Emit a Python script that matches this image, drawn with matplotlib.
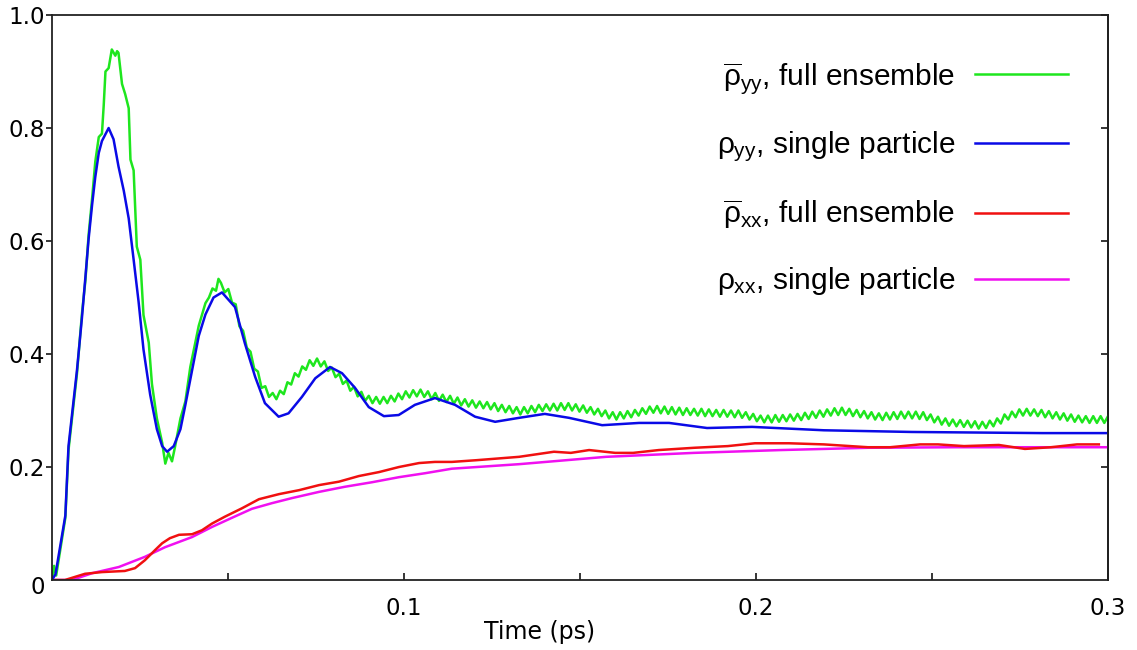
"""Population dynamics: full ensemble vs single particle (rho_yy, rho_xx)."""

import matplotlib

matplotlib.use("Agg")
import matplotlib.pyplot as plt
import numpy as np

plt.rcParams.update(
    {
        "font.family": "DejaVu Sans",
        "mathtext.fontset": "custom",
        "mathtext.rm": "Liberation Sans",
        "mathtext.it": "Liberation Sans",
        "mathtext.bf": "Liberation Sans",
    }
)

# --- data (time in ps) ------------------------------------------------------
# rho_yy, single particle
BLUE_T = [0, 0.001, 0.0038, 0.0047, 0.0071, 0.0085, 0.0095, 0.0104, 0.0114,
          0.0123, 0.0133, 0.0142, 0.0161, 0.0175, 0.0189, 0.0204, 0.0218,
          0.0232, 0.0246, 0.026, 0.0279, 0.0298, 0.0313, 0.0327, 0.0346,
          0.0365, 0.0379, 0.0398, 0.0417, 0.0436, 0.0459, 0.0483, 0.052,
          0.0548, 0.0577, 0.0605, 0.0644, 0.0672, 0.071, 0.0748, 0.079,
          0.0824, 0.0861, 0.09, 0.0943, 0.0985, 0.1031, 0.1088, 0.1145,
          0.1202, 0.1259, 0.1327, 0.140, 0.1469, 0.1563, 0.1668, 0.1753,
          0.1861, 0.1989, 0.2193, 0.2443, 0.2813, 0.3]
BLUE_Y = [0, 0.01, 0.114, 0.237, 0.371, 0.463, 0.536, 0.603, 0.664,
          0.713, 0.756, 0.777, 0.80, 0.78, 0.732, 0.689, 0.64,
          0.567, 0.493, 0.408, 0.328, 0.267, 0.237, 0.227, 0.237,
          0.267, 0.31, 0.371, 0.432, 0.47, 0.5, 0.509, 0.483,
          0.419, 0.36, 0.313, 0.289, 0.295, 0.324, 0.357, 0.377,
          0.366, 0.34, 0.306, 0.29, 0.292, 0.31, 0.322, 0.31,
          0.289, 0.28, 0.287, 0.294, 0.287, 0.274, 0.278, 0.278,
          0.269, 0.271, 0.265, 0.262, 0.26, 0.26]

# rho_yy bar, full ensemble: first rise and fall ...
GREEN_HEAD_T = [0, 0.0006, 0.0012, 0.0038, 0.0047, 0.0071, 0.0085, 0.0095,
                0.0104, 0.0114, 0.0123, 0.0133, 0.0142, 0.0147, 0.0152,
                0.0161, 0.017, 0.018, 0.0185, 0.0189, 0.0199, 0.0208,
                0.0218, 0.0223, 0.0232, 0.0241, 0.0251, 0.026, 0.0275,
                0.0284, 0.0298, 0.0313, 0.0322, 0.0331, 0.0341, 0.035,
                0.0365, 0.0379, 0.0393, 0.0417, 0.0436, 0.0446, 0.0456,
                0.0466, 0.0473]
GREEN_HEAD_Y = [0, 0.025, 0.008, 0.11, 0.23, 0.365, 0.47, 0.53,
                0.61, 0.675, 0.74, 0.784, 0.79, 0.84, 0.9,
                0.906, 0.939, 0.928, 0.936, 0.933, 0.878, 0.86,
                0.835, 0.744, 0.725, 0.59, 0.567, 0.469, 0.42,
                0.347, 0.286, 0.243, 0.206, 0.225, 0.21, 0.237,
                0.286, 0.316, 0.377, 0.45, 0.49, 0.50, 0.516,
                0.512, 0.533]
# ... then the rippled tail, sampled at every ripple crest/trough from 0.048 ps
GREEN_TAIL_Y = [
    0.526, 0.509, 0.515, 0.491, 0.488, 0.449, 0.441, 0.411, 0.404, 0.374,
    0.369, 0.340, 0.343, 0.324, 0.331, 0.320, 0.335, 0.329, 0.350, 0.346,
    0.366, 0.360, 0.378, 0.372, 0.389, 0.379, 0.392, 0.378, 0.387, 0.370,
    0.376, 0.359, 0.365, 0.347, 0.353, 0.335, 0.342, 0.325, 0.333, 0.317,
    0.326, 0.313, 0.324, 0.312, 0.324, 0.313, 0.326, 0.316, 0.330, 0.320,
    0.334, 0.323, 0.336, 0.325, 0.337, 0.324, 0.334, 0.320, 0.331, 0.317,
    0.328, 0.315, 0.326, 0.312, 0.323, 0.309, 0.320, 0.307, 0.318, 0.305,
    0.316, 0.304, 0.315, 0.302, 0.313, 0.299, 0.310, 0.297, 0.308, 0.295,
    0.306, 0.293, 0.306, 0.295, 0.308, 0.297, 0.310, 0.299, 0.311, 0.300,
    0.312, 0.300, 0.313, 0.301, 0.313, 0.300, 0.311, 0.298, 0.309, 0.296,
    0.306, 0.293, 0.303, 0.290, 0.300, 0.286, 0.297, 0.284, 0.297, 0.286,
    0.299, 0.288, 0.301, 0.291, 0.304, 0.294, 0.307, 0.296, 0.308, 0.295,
    0.307, 0.294, 0.306, 0.293, 0.305, 0.292, 0.304, 0.292, 0.303, 0.291,
    0.303, 0.290, 0.302, 0.290, 0.301, 0.289, 0.301, 0.289, 0.300, 0.288,
    0.300, 0.287, 0.297, 0.284, 0.294, 0.281, 0.291, 0.279, 0.291, 0.279,
    0.292, 0.280, 0.292, 0.281, 0.293, 0.282, 0.294, 0.283, 0.296, 0.285,
    0.298, 0.287, 0.300, 0.289, 0.302, 0.291, 0.304, 0.292, 0.305, 0.292,
    0.303, 0.290, 0.301, 0.288, 0.299, 0.286, 0.297, 0.284, 0.295, 0.283,
    0.296, 0.284, 0.297, 0.285, 0.298, 0.286, 0.298, 0.286, 0.298, 0.285,
    0.297, 0.283, 0.293, 0.279, 0.289, 0.275, 0.286, 0.273, 0.284, 0.272,
    0.283, 0.271, 0.282, 0.270, 0.281, 0.268, 0.280, 0.269, 0.282, 0.272,
    0.286, 0.277, 0.293, 0.284, 0.298, 0.288, 0.302, 0.291, 0.303, 0.291,
    0.302, 0.290, 0.301, 0.288, 0.299, 0.286, 0.297, 0.284, 0.295, 0.282,
    0.293, 0.280, 0.291, 0.279, 0.290, 0.278, 0.290, 0.278, 0.290, 0.278,
    0.290,
]
GREEN_TAIL_START, GREEN_TAIL_END = 0.048, 0.3

# rho_xx bar, full ensemble
RED_T = [0, 0.0037, 0.0094, 0.0142, 0.0207, 0.0236, 0.0264, 0.0293, 0.0313,
         0.0335, 0.0361, 0.0398, 0.0426, 0.0455, 0.0491, 0.054, 0.0588,
         0.0645, 0.0702, 0.0759, 0.0815, 0.0872, 0.0929, 0.0986, 0.1043,
         0.1088, 0.1136, 0.1205, 0.1327, 0.1426, 0.1474, 0.1526, 0.16,
         0.1651, 0.1724, 0.1824, 0.192, 0.1997, 0.2094, 0.2193, 0.2318,
         0.2381, 0.2466, 0.2517, 0.2591, 0.269, 0.2764, 0.2838, 0.2912,
         0.2974]
RED_Y = [0, 0, 0.011, 0.014, 0.016, 0.021, 0.035, 0.053, 0.065,
         0.074, 0.08, 0.081, 0.088, 0.1, 0.112, 0.127, 0.143,
         0.152, 0.159, 0.168, 0.174, 0.184, 0.191, 0.2, 0.207,
         0.209, 0.209, 0.212, 0.218, 0.227, 0.225, 0.23, 0.225,
         0.225, 0.23, 0.234, 0.237, 0.242, 0.242, 0.24, 0.235,
         0.235, 0.24, 0.24, 0.237, 0.239, 0.232, 0.235, 0.24,
         0.24]

# rho_xx, single particle
MAGENTA_T = [0, 0.0057, 0.0114, 0.019, 0.0264, 0.0321, 0.0398, 0.0455,
             0.0511, 0.0568, 0.0625, 0.0682, 0.0759, 0.0832, 0.0909,
             0.0986, 0.106, 0.1136, 0.1327, 0.1574, 0.1824, 0.2071,
             0.2318, 0.2565, 0.2813, 0.3]
MAGENTA_Y = [0, 0, 0.012, 0.023, 0.041, 0.058, 0.076, 0.094,
             0.11, 0.126, 0.136, 0.145, 0.156, 0.165, 0.173,
             0.182, 0.189, 0.197, 0.205, 0.218, 0.225, 0.23,
             0.234, 0.235, 0.235, 0.235]

LABELS = [
    r"$\overline{\rho}_{\mathrm{yy}}$, full ensemble",
    r"$\rho_{\mathrm{yy}}$, single particle",
    r"$\overline{\rho}_{\mathrm{xx}}$, full ensemble",
    r"$\rho_{\mathrm{xx}}$, single particle",
]
COLORS = ["#1ee61e", "#0a0ae6", "#f01010", "#f010f0"]
Y_TICKS = [0.2, 0.4, 0.6, 0.8, 1.0]
X_TICKS = [0.1, 0.2, 0.3]
X_MINOR = [0.05, 0.15, 0.25]


def main() -> None:
    fig = plt.figure(figsize=(11.37, 6.5), dpi=100)
    ax = fig.add_axes([0.0457, 0.1077, 0.9288, 0.8692])

    green_t = np.concatenate(
        [GREEN_HEAD_T, np.linspace(GREEN_TAIL_START, GREEN_TAIL_END, len(GREEN_TAIL_Y))]
    )
    green_y = np.concatenate([GREEN_HEAD_Y, GREEN_TAIL_Y])

    series = [
        (green_t, green_y),
        (BLUE_T, BLUE_Y),
        (RED_T, RED_Y),
        (MAGENTA_T, MAGENTA_Y),
    ]
    # draw order: magenta, red under, blue over green
    order = [3, 2, 0, 1]
    handles = [None] * 4
    for i in order:
        t, y = series[i]
        (ln,) = ax.plot(t, y, color=COLORS[i], lw=1.8, label=LABELS[i])
        handles[i] = ln

    ax.set_xlim(0, 0.3)
    ax.set_ylim(0, 1.0)

    for sp in ax.spines.values():
        sp.set_linewidth(1.3)
        sp.set_color("#222222")

    ax.set_yticks(Y_TICKS)
    ax.set_yticklabels([f"{v:.1f}" for v in Y_TICKS])
    ax.tick_params(axis="y", direction="out", length=4, width=1.1, pad=1,
                   labelsize=16.5)
    ax.set_xticks(X_TICKS)
    ax.set_xticklabels([f"{v:.1f}" for v in X_TICKS])
    ax.set_xticks(X_MINOR, minor=True)
    ax.tick_params(axis="x", which="both", direction="in", length=5, width=1.1,
                   pad=12, labelsize=16.5)

    right = ax.secondary_yaxis("right")
    right.set_yticks(Y_TICKS)
    right.tick_params(direction="in", length=5, width=1.1, labelright=False)
    right.spines["right"].set_linewidth(1.3)

    ax.text(-0.007, -0.014, "0", transform=ax.transAxes, ha="right", va="center",
            fontsize=16.5)
    ax.set_xlabel("Time (ps)", fontsize=17)
    ax.xaxis.set_label_coords(0.462, -0.071)

    ax.legend(
        handles,
        LABELS,
        loc="upper right",
        bbox_to_anchor=(0.973, 0.942),
        frameon=False,
        markerfirst=False,
        handlelength=3.1,
        handletextpad=0.65,
        labelspacing=1.12,
        borderaxespad=0,
        prop={"family": "Liberation Sans", "size": 21.5},
    )

    fig.savefig("out.png", dpi=100)
    plt.close(fig)


if __name__ == "__main__":
    main()
